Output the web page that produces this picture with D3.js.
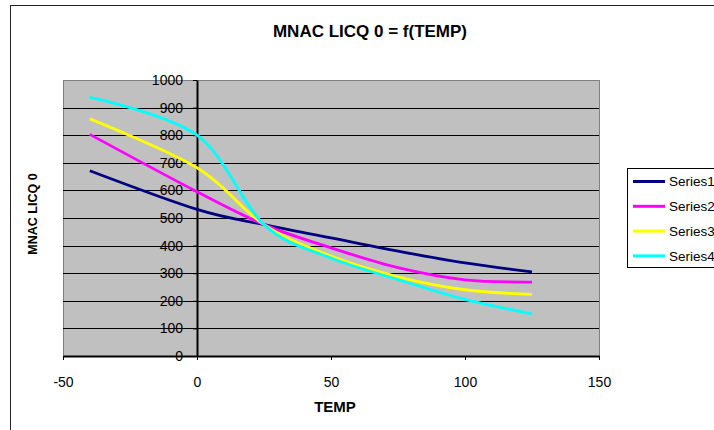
<!DOCTYPE html>
<html>
<head>
<meta charset="utf-8">
<script src="https://cdn.jsdelivr.net/npm/d3@7"></script>
<style>
  html, body { margin: 0; padding: 0; background: #ffffff; }
  svg { display: block; font-family: Arial, "Liberation Sans", sans-serif; }
</style>
</head>
<body>
<svg id="chart" width="714" height="430"></svg>
<script>
// ---- data ----
const temps = [-40, 0, 25, 50, 75, 100, 125];
const series1 = [671, 531, 476, 428, 380, 337, 305];
const series2 = [803, 595, 476, 392, 320, 276, 268];
const series3 = [859, 682, 476, 362, 287, 240, 223];
const series4 = [937, 800, 476, 355, 277, 205, 153];
const seriesNames = ["Series1", "Series2", "Series3", "Series4"];
const seriesColors = ["#000080", "#FF00FF", "#FFFF00", "#00FFFF"];
const xTicks = [-50, 0, 50, 100, 150];
const xTickLabels = ["-50", "0", "50", "100", "150"];
const yTicks = [0, 100, 200, 300, 400, 500, 600, 700, 800, 900, 1000];
const yTickLabels = ["0", "100", "200", "300", "400", "500", "600", "700", "800", "900", "1000"];
const chartTitle = "MNAC LICQ 0 = f(TEMP)";
const xTitle = "TEMP";
const yTitle = "MNAC LICQ 0";

const allSeries = [series1, series2, series3, series4];

const svg = d3.select("#chart");

// chart border
svg.append("rect")
  .attr("x", 10.5).attr("y", 5.5)
  .attr("width", 800).attr("height", 500)
  .attr("fill", "#ffffff").attr("stroke", "#222").attr("stroke-width", 1);

const plot = { left: 63, right: 599, top: 80, bottom: 356 };

const x = d3.scaleLinear().domain([-50, 150]).range([plot.left, plot.right]);
const y = d3.scaleLinear().domain([0, 1000]).range([plot.bottom, plot.top]);

// plot area
svg.append("rect")
  .attr("x", plot.left + 0.5).attr("y", plot.top + 0.5)
  .attr("width", plot.right - plot.left).attr("height", plot.bottom - plot.top)
  .attr("fill", "#C0C0C0").attr("stroke", "#808080").attr("stroke-width", 1);

// gridlines
svg.append("g")
  .selectAll("line")
  .data(yTicks.filter(d => d > 0 && d < 1000))
  .join("line")
  .attr("x1", plot.left).attr("x2", plot.right)
  .attr("y1", d => Math.round(y(d)) + 0.5).attr("y2", d => Math.round(y(d)) + 0.5)
  .attr("stroke", "#000").attr("stroke-width", 1);

// y axis at x=0
const yAxis = d3.axisLeft(y).tickValues(yTicks)
  .tickFormat((d, i) => yTickLabels[i])
  .tickSize(4).tickPadding(10).tickSizeOuter(0);
const gy = svg.append("g").attr("transform", `translate(${x(0)},0)`).call(yAxis);
gy.select(".domain").attr("stroke", "#000").attr("stroke-width", 2);
gy.selectAll(".tick line").attr("stroke", "#000").attr("stroke-width", 1);
gy.selectAll(".tick text")
  .attr("font-size", 14).attr("fill", "#000")
  .attr("font-family", "Arial, 'Liberation Sans', sans-serif");

// x axis at y=0
const xAxis = d3.axisBottom(x).tickValues(xTicks)
  .tickFormat((d, i) => xTickLabels[i])
  .tickSize(4).tickPadding(17).tickSizeOuter(0);
const gx = svg.append("g").attr("transform", `translate(0,${y(0)})`).call(xAxis);
gx.select(".domain").attr("stroke", "#000").attr("stroke-width", 2);
gx.selectAll(".tick line").attr("stroke", "#000").attr("stroke-width", 1);
gx.selectAll(".tick text")
  .attr("font-size", 14).attr("fill", "#000")
  .attr("font-family", "Arial, 'Liberation Sans', sans-serif");

// lines
const line = d3.line()
  .x((d, i) => x(temps[i]))
  .y(d => y(d))
  .curve(d3.curveCardinal.tension(0));

svg.append("g")
  .selectAll("path")
  .data(allSeries)
  .join("path")
  .attr("d", d => line(d))
  .attr("fill", "none")
  .attr("stroke", (d, i) => seriesColors[i])
  .attr("stroke-width", 2.8);

// titles
svg.append("text")
  .attr("x", 370).attr("y", 37)
  .attr("text-anchor", "middle")
  .attr("font-size", 17).attr("font-weight", "bold")
  .text(chartTitle);

svg.append("text")
  .attr("x", 335).attr("y", 412)
  .attr("text-anchor", "middle")
  .attr("font-size", 15).attr("font-weight", "bold")
  .text(xTitle);

svg.append("text")
  .attr("transform", `translate(37,${(plot.top + plot.bottom) / 2 - 4}) rotate(-90)`)
  .attr("text-anchor", "middle")
  .attr("font-size", 12.5).attr("font-weight", "bold")
  .text(yTitle);

// legend
const legend = svg.append("g");
legend.append("rect")
  .attr("x", 627.5).attr("y", 168.5)
  .attr("width", 120).attr("height", 99)
  .attr("fill", "#ffffff").attr("stroke", "#000").attr("stroke-width", 1);

const rows = legend.selectAll("g.row")
  .data(seriesNames)
  .join("g").attr("class", "row")
  .attr("transform", (d, i) => `translate(0,${181.5 + i * 24.8})`);
rows.append("line")
  .attr("x1", 633).attr("x2", 665)
  .attr("y1", 0).attr("y2", 0)
  .attr("stroke", (d, i) => seriesColors[i])
  .attr("stroke-width", 3);
rows.append("text")
  .attr("x", 669).attr("y", 0).attr("dy", "0.36em")
  .attr("font-size", 13.5).attr("fill", "#000")
  .text(d => d);
</script>
</body>
</html>
